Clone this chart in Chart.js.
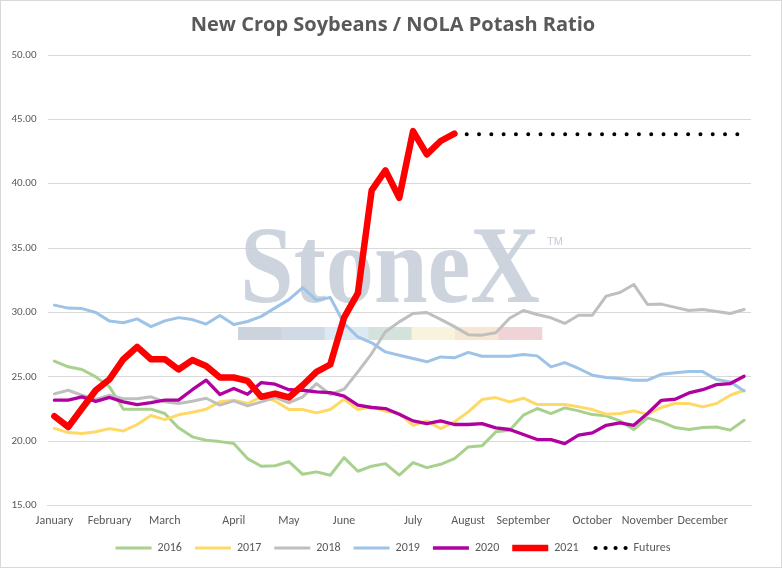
<!DOCTYPE html>
<html>
<head>
<meta charset="utf-8">
<script src="https://cdn.jsdelivr.net/npm/chart.js@4/dist/chart.umd.min.js"></script>
<style>
  html, body { margin: 0; padding: 0; background: #fff; }
  #wrap { width: 782px; height: 568px; position: relative; }
</style>
</head>
<body>
<div id="wrap"><canvas id="ratioChart" width="782" height="568"></canvas></div>
<script>
// Weekly soybean / potash ratio, one point per week (51 weeks)
const monthNames = ['January', 'February', 'March', 'April', 'May', 'June',
  'July', 'August', 'September', 'October', 'November', 'December'];
const monthStartWeek = [0, 4, 8, 13, 17, 21, 26, 30, 34, 39, 43, 47];
const weekCount = 51;

const y2016 = [26.22, 25.78, 25.57, 25.0, 24.22, 22.49, 22.49, 22.49, 22.15, 21.04,
  20.34, 20.08, 19.97, 19.82, 18.65, 18.06, 18.1, 18.42, 17.43, 17.62,
  17.36, 18.73, 17.67, 18.06, 18.26, 17.36, 18.34, 17.95, 18.21, 18.65,
  19.56, 19.64, 20.73, 20.86, 22.02, 22.54, 22.15, 22.59, 22.36, 22.07,
  21.97, 21.58, 20.91, 21.81, 21.5, 21.06, 20.91, 21.06, 21.11, 20.86, 21.63];
const y2017 = [21.0, 20.67, 20.6, 20.73, 20.98, 20.8, 21.3, 22.0, 21.68, 22.05,
  22.25, 22.49, 23.06, 23.19, 22.93, 23.45, 23.13, 22.46, 22.46, 22.2,
  22.46, 23.26, 22.46, 22.67, 22.33, 22.15, 21.24, 21.58, 20.98, 21.5,
  22.28, 23.24, 23.39, 23.06, 23.34, 22.85, 22.85, 22.85, 22.67, 22.46,
  22.1, 22.15, 22.36, 22.1, 22.62, 22.93, 22.93, 22.67, 22.93, 23.57, 23.96];
const y2018 = [23.68, 23.96, 23.57, 23.24, 23.57, 23.3, 23.3, 23.45, 23.06, 22.93,
  23.1, 23.34, 22.8, 23.13, 22.75, 23.06, 23.4, 22.98, 23.45, 24.48,
  23.63, 24.04, 25.39, 26.81, 28.5, 29.27, 29.92, 30.0, 29.46, 28.9,
  28.28, 28.24, 28.42, 29.55, 30.15, 29.84, 29.59, 29.15, 29.79, 29.79,
  31.27, 31.55, 32.18, 30.62, 30.65, 30.4, 30.15, 30.23, 30.08, 29.92, 30.23];
const y2019 = [30.57, 30.34, 30.3, 30.0, 29.33, 29.2, 29.5, 28.9, 29.35, 29.6,
  29.45, 29.1, 29.77, 29.07, 29.3, 29.7, 30.36, 31.0, 31.94, 30.96,
  31.17, 29.15, 28.1, 27.64, 26.94, 26.68, 26.42, 26.17, 26.55, 26.48,
  26.9, 26.6, 26.6, 26.6, 26.74, 26.63, 25.78, 26.11, 25.65, 25.13,
  24.95, 24.87, 24.74, 24.74, 25.2, 25.31, 25.41, 25.41, 24.79, 24.61, 23.91];
const y2020 = [23.19, 23.19, 23.45, 23.1, 23.4, 23.06, 22.85, 23.0, 23.19, 23.19,
  24.0, 24.74, 23.63, 24.1, 23.65, 24.56, 24.43, 24.0, 23.96, 23.83,
  23.78, 23.5, 22.8, 22.62, 22.54, 22.1, 21.58, 21.37, 21.58, 21.3,
  21.3, 21.37, 21.04, 20.91, 20.52, 20.13, 20.13, 19.82, 20.47, 20.65,
  21.24, 21.42, 21.24, 22.15, 23.18, 23.26, 23.75, 24.0, 24.4, 24.48, 25.05];
const y2021 = [21.94, 21.11, 22.54, 23.96, 24.82, 26.37, 27.33, 26.37, 26.37, 25.57,
  26.3, 25.85, 24.95, 24.95, 24.69, 23.45, 23.7, 23.4, 24.35, 25.39,
  25.96, 29.6, 31.5, 39.48, 41.04, 38.91, 44.09, 42.28, 43.32, 43.89];
// futures level carried flat from the last 2021 week to year end
const futuresStart = 29;
const futuresLevel = 43.85;

const yTicks = { min: 15, max: 50, step: 5 };

// category labels: month name on its first week, blank otherwise
const weekLabels = [];
for (let i = 0; i < weekCount; i++) {
  const m = monthStartWeek.indexOf(i);
  weekLabels.push(m >= 0 ? monthNames[m] : '');
}
const futures = weekLabels.map((_, i) => (i >= futuresStart ? futuresLevel : null));

const FONT = "Carlito, Lato, 'Liberation Sans', sans-serif";
const TEXT = '#595959';

// StoneX watermark, dotted legend key for Futures, outer frame,
// and a small squeeze of the legend box so it sits close to the axis
const decorations = {
  id: 'decorations',
  beforeLayout(chart) {
    const lg = chart.legend;
    if (lg && !lg._squeezed) {
      const fit = lg.fit.bind(lg);
      lg.fit = function () { fit(); this.height -= 5; };
      lg._squeezed = true;
    }
  },
  afterLayout(chart) {
    const lg = chart.legend;
    if (lg) { lg.top -= 7; lg.bottom -= 7; }
  },
  beforeDatasetsDraw(chart) {
    const ctx = chart.ctx;
    ctx.save();
    const strip = ['#cdd3dc', '#d0dae5', '#dce8f2', '#d3e3db', '#f7f3dc', '#f7e6d2', '#f0d3d6'];
    const sx = 238, sw = 43.4;
    strip.forEach((c, i) => {
      ctx.fillStyle = c;
      ctx.fillRect(sx + i * sw, 327, sw + 0.5, 13);
    });
    ctx.fillStyle = 'rgba(196, 205, 216, 0.85)';
    ctx.font = "bold 110px 'Liberation Serif', 'DejaVu Serif', serif";
    ctx.textBaseline = 'alphabetic';
    const w = ctx.measureText('StoneX').width;
    ctx.translate(240, 302);
    ctx.scale(300 / w, 1);
    ctx.fillText('StoneX', 0, 0);
    ctx.restore();
    ctx.save();
    ctx.fillStyle = 'rgba(190, 198, 208, 0.9)';
    ctx.font = "11px 'Liberation Sans', sans-serif";
    ctx.fillText('TM', 547, 242);
    ctx.restore();
  },
  afterDraw(chart) {
    const ctx = chart.ctx;
    const legend = chart.legend;
    if (legend && legend.legendItems) {
      const idx = legend.legendItems.findIndex(it => it.text === 'Futures');
      const box = legend.legendHitBoxes[idx];
      if (box) {
        ctx.save();
        ctx.fillStyle = '#000';
        const cy = box.top + 6;
        for (let k = 0; k < 4; k++) {
          ctx.beginPath();
          ctx.arc(box.left + 4 + k * 10, cy, 2.1, 0, Math.PI * 2);
          ctx.fill();
        }
        ctx.restore();
      }
    }
    ctx.save();
    ctx.strokeStyle = '#d9d9d9';
    ctx.lineWidth = 1;
    ctx.strokeRect(0.5, 0.5, chart.width - 1, chart.height - 1);
    ctx.restore();
  }
};

function lineSet(label, data, color, width, order) {
  return {
    label: label,
    data: data,
    borderColor: color,
    backgroundColor: color,
    borderWidth: width,
    borderJoinStyle: 'round',
    borderCapStyle: 'round',
    pointRadius: 0,
    pointHoverRadius: 0,
    tension: 0,
    fill: false,
    order: order
  };
}

const futuresSet = lineSet('Futures', futures, '#000000', 4, 2);
futuresSet.borderDash = [0, 12.3];

new Chart(document.getElementById('ratioChart').getContext('2d'), {
  type: 'line',
  data: {
    labels: weekLabels,
    datasets: [
      lineSet('2016', y2016, '#a9d18e', 3, 7),
      lineSet('2017', y2017, '#ffd966', 3, 6),
      lineSet('2018', y2018, '#bfbfbf', 3, 5),
      lineSet('2019', y2019, '#9dc3e6', 3, 4),
      lineSet('2020', y2020, '#b000a0', 3.3, 3),
      lineSet('2021', y2021, '#ff0000', 6.5, 1),
      futuresSet
    ]
  },
  options: {
    responsive: false,
    animation: false,
    devicePixelRatio: 1,
    layout: { padding: { left: 6, right: 2, top: 0, bottom: 2 } },
    scales: {
      x: {
        offset: true,
        grid: { display: false, drawTicks: false },
        border: { color: '#d9d9d9' },
        ticks: {
          autoSkip: false,
          maxRotation: 0,
          minRotation: 0,
          color: TEXT,
          font: { family: FONT, size: 12 },
          padding: 8
        }
      },
      y: {
        min: yTicks.min,
        max: yTicks.max,
        grid: { color: '#d9d9d9', drawTicks: false },
        border: { display: false },
        afterFit(scale) { scale.width = 41.5; },
        ticks: {
          stepSize: yTicks.step,
          color: TEXT,
          font: { family: FONT, size: 11 },
          padding: 11,
          callback: v => Number(v).toFixed(2)
        }
      },
      // empty right-hand spacer so the plot stops where the original does
      spacer: {
        type: 'linear',
        position: 'right',
        grid: { display: false, drawTicks: false },
        border: { display: false },
        ticks: { display: false },
        afterFit(scale) { scale.width = 29; }
      }
    },
    plugins: {
      title: {
        display: true,
        text: 'New Crop Soybeans / NOLA Potash Ratio',
        color: TEXT,
        font: { family: "'Open Sans', " + FONT, size: 20, weight: 'bold' },
        padding: { top: 13, bottom: 18 }
      },
      legend: {
        position: 'bottom',
        labels: {
          usePointStyle: true,
          pointStyle: 'line',
          pointStyleWidth: 36,
          padding: 13,
          color: TEXT,
          font: { family: FONT, size: 12 },
          generateLabels(chart) {
            const items = Chart.defaults.plugins.legend.labels.generateLabels(chart);
            items.sort((a, b) => a.datasetIndex - b.datasetIndex);
            items.forEach(it => {
              if (it.text === 'Futures') it.strokeStyle = 'rgba(0,0,0,0)';
            });
            return items;
          }
        }
      },
      tooltip: { enabled: false }
    }
  },
  plugins: [decorations]
});
</script>
</body>
</html>
